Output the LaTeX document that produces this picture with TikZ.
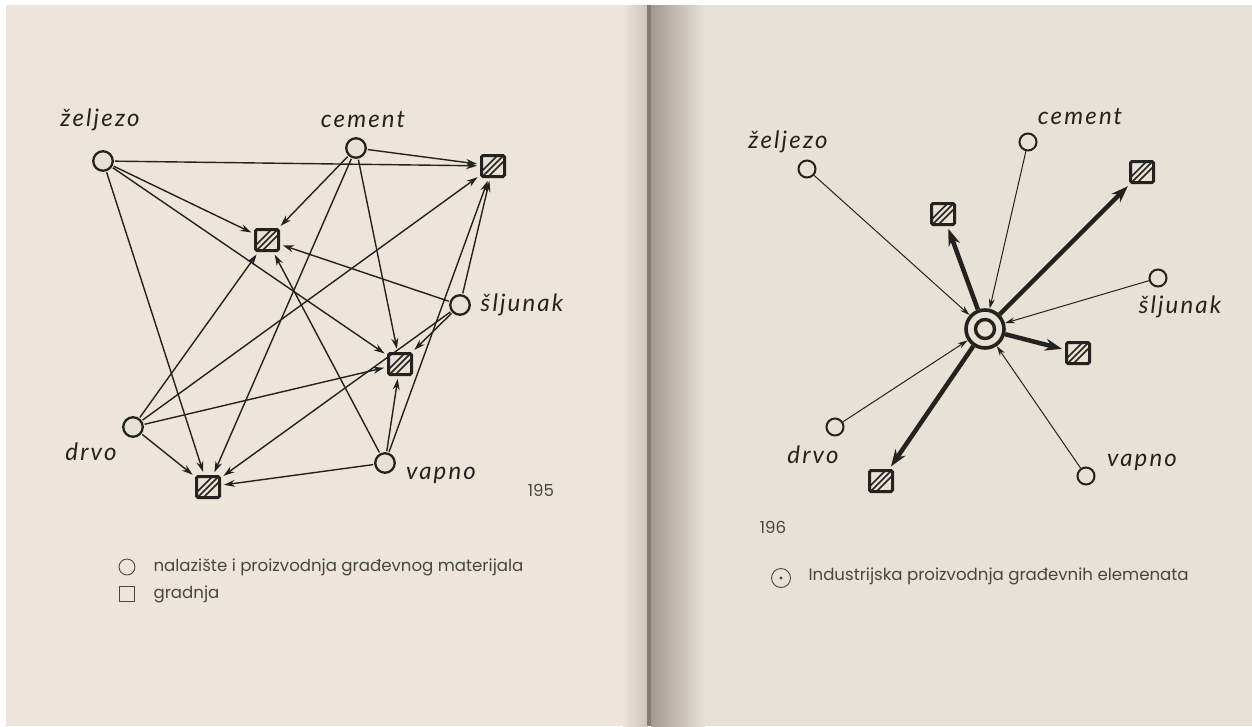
\documentclass[tikz,border=0pt]{standalone}
\usepackage{fontspec}
\setmainfont{Poppins}
\newfontfamily\handfont{Lato}[LetterSpace=9]
\usepackage{tikz}
\usetikzlibrary{arrows.meta, positioning}
\definecolor{cPage}{RGB}{232,225,214}
\definecolor{cPageL}{RGB}{237,229,218}
\definecolor{cInk}{RGB}{36,34,32}
\definecolor{cLegend}{RGB}{72,70,68}
\definecolor{cGutter}{RGB}{132,124,112}
\tikzset{
	src/.style    ={circle, draw=cInk, line width=2.3pt, minimum size=19.5pt, inner sep=0pt, fill=cPage},
	srcsm/.style  ={src, line width=2pt, minimum size=17pt},
	site/.style   ={rectangle, draw=cInk, line width=3pt, rounded corners=1.5pt, minimum width=23pt, minimum height=21pt, inner sep=0pt, fill=cPage,
		path picture={\foreach \o in {-6,0,6} \draw[cInk, line width=1.5pt] ([shift={(\o pt-14pt,-14pt)}]path picture bounding box.center) -- ++(28pt,28pt);}},
	hub/.style    ={circle, draw=cInk, line width=3.6pt, minimum size=38pt, inner sep=0pt, fill=cPage},
	link/.style   ={-{Stealth[length=11pt, width=7pt]}, cInk, line width=1.4pt, shorten >=3pt, shorten <=1pt},
	feed/.style   ={-{Stealth[length=10pt, width=6pt]}, cInk, line width=1pt},
	supply/.style ={-{Stealth[length=17pt, width=12pt]}, cInk, line width=4.5pt, shorten >=3pt},
	hand/.style   ={font=\handfont\itshape\fontsize{24}{28}\selectfont, text=cInk},
	legend/.style ={font=\fontsize{16.6}{19}\selectfont, text=cLegend, anchor=west},
}
\begin{document}
\begin{tikzpicture}[x=1pt, y=-1pt]
	\useasboundingbox (0,0) rectangle (1252,726);
	% paper and gutter
	\fill[white] (0,0) rectangle (1252,726);
	\fill[cPageL] (6,5) rectangle (650,726);
	\fill[cPage] (650,5) rectangle (1252,726);
	\shade[left color=cPageL, right color=cGutter!30!cPageL] (622,5) rectangle (647,726);
	\fill[cGutter] (647,5) rectangle (651,726);
	\shade[left color=cGutter!70!cPage, right color=cPage] (651,5) rectangle (705,726);
	% 195: every material to every site
	\node[src] (zelL) at (103,161) {};
	\node[src] (cemL) at (356,148) {};
	\node[src] (sljL) at (460,305) {};
	\node[src] (drvL) at (133,427) {};
	\node[src] (vapL) at (385,463) {};
	\node[site] (sqA) at (493,166) {};
	\node[site] (sqB) at (267,240) {};
	\node[site] (sqC) at (400,364) {};
	\node[site] (sqD) at (208,487) {};
	\foreach \s in {zelL, cemL, sljL, drvL, vapL}
		\foreach \t in {sqA, sqB, sqC, sqD}
			\draw[link] (\s) -- (\t);
	\node[hand] (zelLT) at (100,120) {željezo};
	\node[hand] (cemLT) at (363,120) {cement};
	\node[hand] (sljLT) at (522,305) {šljunak};
	\node[hand] (drvLT) at (91,452) {drvo};
	\node[hand] (vapLT) at (441,475) {vapno};
	\node[legend, anchor=center] (pageL) at (541,490) {195};
	\node[circle, draw=cLegend, line width=0.9pt, minimum size=16pt, inner sep=0pt] (keySrc) at (127,567) {};
	\node[rectangle, draw=cLegend, line width=0.9pt, minimum size=15pt, inner sep=0pt] (keySite) at (127,594) {};
	\node[legend] (keySrcT) at (150,567) {nalazište i proizvodnja građevnog materijala};
	\node[legend] (keySiteT) at (150,594) {gradnja};
	% 196: materials gathered in one plant
	\node[hub] (hub) at (985,329) {};
	\node[circle, draw=cInk, line width=3.4pt, minimum size=19pt, inner sep=0pt] (hubIn) at (hub.center) {};
	\node[srcsm] (zelR) at (807,169) {};
	\node[srcsm] (cemR) at (1028,142) {};
	\node[srcsm] (sljR) at (1158,278) {};
	\node[srcsm] (drvR) at (835,427) {};
	\node[srcsm] (vapR) at (1086,476) {};
	\node[site] (sqE) at (943,214) {};
	\node[site] (sqF) at (1142,172) {};
	\node[site] (sqG) at (1078,353) {};
	\node[site] (sqH) at (881,481) {};
	\foreach \s in {zelR, cemR, sljR, drvR, vapR}
		\draw[feed] (\s) -- (hub);
	\foreach \t in {sqE, sqF, sqG, sqH}
		\draw[supply] (hub) -- (\t);
	\node[hand] (zelRT) at (788,142) {željezo};
	\node[hand] (cemRT) at (1080,117) {cement};
	\node[hand] (sljRT) at (1180,307) {šljunak};
	\node[hand] (drvRT) at (813,455) {drvo};
	\node[hand] (vapRT) at (1142,462) {vapno};
	\node[legend, anchor=center] (pageR) at (773,527) {196};
	\node[circle, draw=cLegend, line width=0.9pt, minimum size=19pt, inner sep=0pt] (keyHub) at (781,578) {};
	\fill[cLegend] (keyHub.center) circle (1.6);
	\node[legend] (keyHubT) at (805,576) {Industrijska proizvodnja građevnih elemenata};
\end{tikzpicture}
\end{document}
